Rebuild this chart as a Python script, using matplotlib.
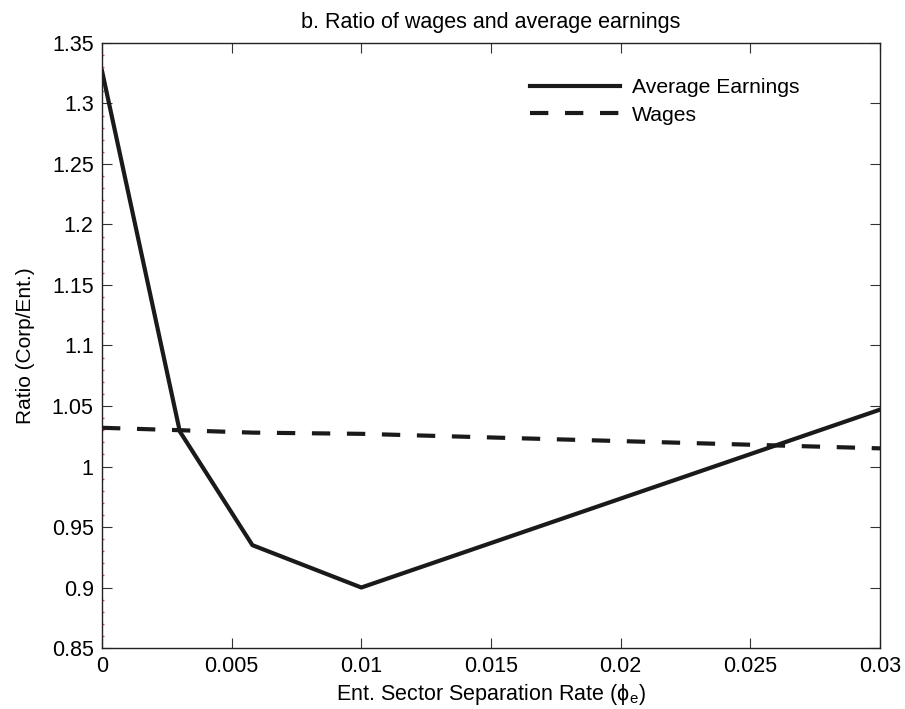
import matplotlib
matplotlib.use('Agg')
import matplotlib.pyplot as plt
from matplotlib.ticker import MultipleLocator

plt.rcParams['font.family'] = ['Liberation Sans', 'DejaVu Sans']
plt.rcParams['mathtext.fontset'] = 'custom'
plt.rcParams['mathtext.rm'] = 'Liberation Sans'

# separation rate grid and ratios
phi_e = [0.0, 0.003, 0.0058, 0.01, 0.03]
avg_earnings = [1.327, 1.029, 0.935, 0.900, 1.047]
wages = [1.032, 1.030, 1.028, 1.027, 1.015]

x_ticks = [0, 0.005, 0.01, 0.015, 0.02, 0.025, 0.03]
x_ticklabels = ['0', '0.005', '0.01', '0.015', '0.02', '0.025', '0.03']
y_ticks = [0.85, 0.9, 0.95, 1.0, 1.05, 1.1, 1.15, 1.2, 1.25, 1.3, 1.35]
y_ticklabels = ['0.85', '0.9', '0.95', '1', '1.05', '1.1', '1.15', '1.2', '1.25', '1.3', '1.35']

fig = plt.figure(figsize=(9.05, 7.09), dpi=100)
ax = fig.add_axes([0.1127, 0.086, 0.8597, 0.8534])

ax.plot(phi_e, avg_earnings, color='#1a1a1a', linewidth=3.0, label='Average Earnings')
ax.plot(phi_e, wages, color='#1a1a1a', linewidth=3.0, linestyle=(0, (4.4, 4.0)), label='Wages')

ax.set_xlim(0, 0.03)
ax.set_ylim(0.85, 1.35)
ax.set_xticks(x_ticks)
ax.set_xticklabels(x_ticklabels)
ax.set_yticks(y_ticks)
ax.set_yticklabels(y_ticklabels)
ax.yaxis.set_minor_locator(MultipleLocator(0.01))

ax.tick_params(which='major', direction='in', length=7, width=0.8, top=True, right=True,
               labelsize=15.5, color='#333333', pad=6)
ax.tick_params(which='minor', axis='y', direction='in', length=1.5, width=1.0, left=True,
               right=False, color='#ff4444')
ax.tick_params(which='minor', axis='x', bottom=False, top=False)
for s in ax.spines.values():
    s.set_linewidth(1.0)
    s.set_color('#222222')

ax.set_title('b. Ratio of wages and average earnings', fontsize=15.5, pad=11)
ax.set_xlabel('Ent. Sector Separation Rate (\u03d5$_\\mathrm{e}$)', fontsize=15.5, labelpad=3)
ax.set_ylabel('Ratio (Corp/Ent.)', fontsize=15, labelpad=12)

ax.legend(loc='upper left', bbox_to_anchor=(0.55, 0.942), frameon=False, fontsize=15.2,
          handlelength=4.26, handletextpad=0.57, borderpad=0, borderaxespad=0, labelspacing=0.4)

fig.savefig('out.png', dpi=100)
